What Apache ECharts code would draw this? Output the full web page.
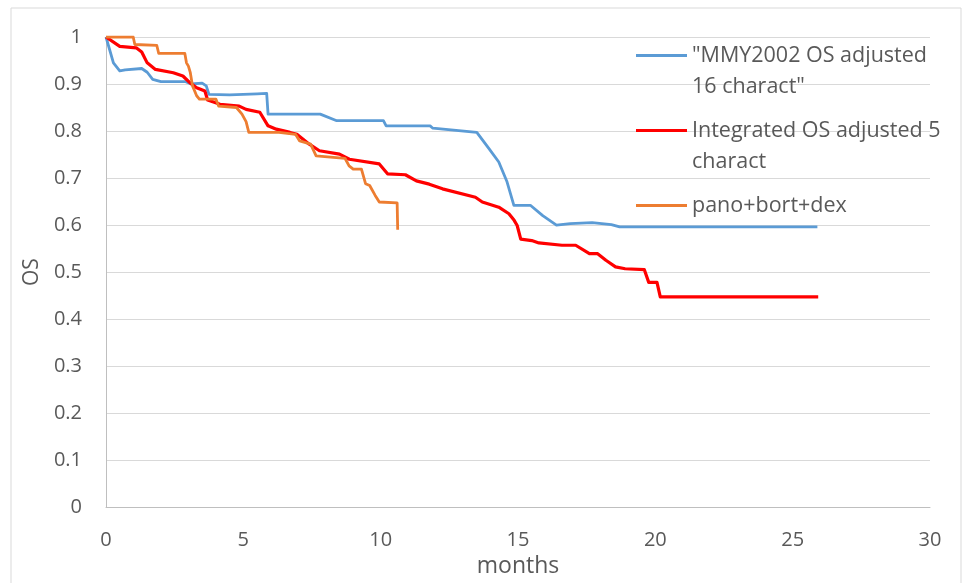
<!DOCTYPE html>
<html>
<head>
<meta charset="utf-8">
<script src="https://cdn.jsdelivr.net/npm/echarts@6/dist/echarts.min.js"></script>
<style>
  html, body { margin: 0; padding: 0; background: #ffffff; }
  #chart { width: 966px; height: 583px; }
</style>
</head>
<body>
<div id="chart"></div>
<script>
// Survival curves: [month, OS]
const mmy2002 = [
  [0, 1.0], [0.27, 0.945], [0.5, 0.928], [0.7, 0.930], [1.3, 0.933], [1.5, 0.925],
  [1.7, 0.910], [2.0, 0.905], [2.9, 0.905], [3.1, 0.900], [3.5, 0.902], [3.65, 0.896],
  [3.75, 0.878], [4.5, 0.877], [5.5, 0.879], [5.85, 0.880], [5.9, 0.836], [7.8, 0.836],
  [8.4, 0.822], [10.1, 0.822], [10.2, 0.811], [11.8, 0.811], [11.9, 0.806], [13.5, 0.797],
  [13.95, 0.762], [14.3, 0.734], [14.6, 0.692], [14.85, 0.642], [15.45, 0.642],
  [15.9, 0.620], [16.4, 0.600], [16.9, 0.603], [17.7, 0.605], [18.4, 0.601],
  [18.7, 0.596], [25.9, 0.596]
];

const integrated = [
  [0, 1.0], [0.5, 0.980], [1.1, 0.977], [1.3, 0.968], [1.5, 0.945], [1.8, 0.931],
  [2.45, 0.924], [2.8, 0.917], [3.05, 0.903], [3.3, 0.892], [3.6, 0.885], [3.7, 0.866],
  [4.15, 0.857], [4.85, 0.853], [5.1, 0.846], [5.6, 0.840], [5.9, 0.811], [6.2, 0.804],
  [6.7, 0.797], [6.95, 0.793], [7.4, 0.772], [7.77, 0.758], [8.5, 0.751], [8.86, 0.740],
  [9.95, 0.730], [10.25, 0.709], [10.9, 0.707], [11.3, 0.694], [11.77, 0.687],
  [12.25, 0.677], [13.45, 0.659], [13.7, 0.649], [14.3, 0.638], [14.67, 0.624],
  [14.86, 0.610], [14.97, 0.599], [15.1, 0.570], [15.5, 0.567], [15.76, 0.562],
  [16.6, 0.557], [17.1, 0.557], [17.6, 0.539], [17.9, 0.539], [18.2, 0.525],
  [18.55, 0.511], [18.9, 0.507], [19.6, 0.505], [19.76, 0.478], [20.06, 0.478],
  [20.18, 0.447], [25.93, 0.447]
];

const panoBortDex = [
  [0, 1.0], [0.99, 1.0], [1.05, 0.984], [1.85, 0.982], [1.92, 0.965], [2.87, 0.965],
  [2.93, 0.945], [3.0, 0.938], [3.07, 0.924], [3.15, 0.896], [3.3, 0.875], [3.4, 0.868],
  [4.0, 0.868], [4.1, 0.853], [4.75, 0.850], [4.95, 0.836], [5.1, 0.820], [5.2, 0.797],
  [6.3, 0.797], [6.9, 0.793], [7.05, 0.779], [7.45, 0.772], [7.65, 0.747], [8.7, 0.742],
  [8.85, 0.726], [9.0, 0.719], [9.3, 0.719], [9.45, 0.688], [9.6, 0.684], [9.8, 0.663],
  [9.95, 0.649], [10.6, 0.647], [10.62, 0.590]
];

const seriesNames = [
  '"MMY2002 OS adjusted 16 charact"',
  'Integrated OS adjusted 5 charact',
  'pano+bort+dex'
];
// Legend labels as wrapped in the legend box
const legendLabels = [
  ['"MMY2002 OS adjusted', '16 charact"'],
  ['Integrated OS adjusted 5', 'charact'],
  ['pano+bort+dex']
];
const seriesColors = ['#5B9BD5', '#FF0000', '#ED7D31'];
const seriesWidths = [2.8, 3.2, 2.8];

const xTicks = { min: 0, max: 30, interval: 5 };
const yTicks = { min: 0, max: 1, interval: 0.1 };

const FONT = 'Open Sans';
const TEXT_COLOR = '#595959';
const LINE_H = 31;

const chart = echarts.init(document.getElementById('chart'), null, { renderer: 'canvas' });

// One legend per entry; wrapped labels get a leading blank line so the
// first text line sits level with the line swatch.
function makeLegend(i, firstLineY) {
  const lines = legendLabels[i];
  const text = lines.length > 1 ? ['\u00a0'].concat(lines).join('\n') : lines[0];
  const nLines = lines.length > 1 ? 3 : 1;
  return {
    data: [{ name: seriesNames[i], icon: 'rect' }],
    left: 636,
    top: Math.round(firstLineY - nLines * LINE_H / 2),
    padding: 0,
    itemWidth: 51,
    itemHeight: 3,
    itemGap: 0,
    selectedMode: false,
    formatter: function () { return text; },
    textStyle: {
      fontFamily: FONT,
      fontSize: 21.5,
      color: TEXT_COLOR,
      lineHeight: LINE_H
    }
  };
}

const datasets = [mmy2002, integrated, panoBortDex];

chart.setOption({
  animation: false,
  backgroundColor: '#ffffff',
  graphic: [{
    type: 'rect',
    shape: { x: 11, y: 8, width: 950, height: 600 },
    style: { fill: 'none', stroke: '#d9d9d9', lineWidth: 1 },
    silent: true,
    z: -10
  }],
  grid: { left: 106, right: 36, top: 37, bottom: 74, containLabel: false },
  legend: [makeLegend(0, 55), makeLegend(1, 130), makeLegend(2, 205)],
  xAxis: {
    type: 'value',
    min: xTicks.min, max: xTicks.max, interval: xTicks.interval,
    name: 'months',
    nameLocation: 'middle',
    nameGap: 43,
    nameTextStyle: { fontFamily: FONT, fontSize: 23, color: TEXT_COLOR },
    axisLine: { show: true, lineStyle: { color: '#bfbfbf', width: 1 } },
    axisTick: { show: false },
    splitLine: { show: false },
    axisLabel: { fontFamily: FONT, fontSize: 20, color: TEXT_COLOR, margin: 23 }
  },
  yAxis: {
    type: 'value',
    min: yTicks.min, max: yTicks.max, interval: yTicks.interval,
    name: 'OS',
    nameLocation: 'middle',
    nameGap: 61,
    nameRotate: 90,
    nameTextStyle: { fontFamily: FONT, fontSize: 21, color: TEXT_COLOR },
    axisLine: { show: true, lineStyle: { color: '#bfbfbf', width: 1 } },
    axisTick: { show: false },
    splitLine: { show: true, lineStyle: { color: '#d9d9d9', width: 1 } },
    axisLabel: {
      fontFamily: FONT, fontSize: 20, color: TEXT_COLOR, margin: 24,
      formatter: function (v) { return String(Math.round(v * 10) / 10); }
    }
  },
  series: datasets.map(function (d, i) {
    return {
      name: seriesNames[i],
      type: 'line',
      data: d,
      showSymbol: false,
      symbol: 'none',
      color: seriesColors[i],
      lineStyle: { color: seriesColors[i], width: seriesWidths[i], join: 'round' },
      z: i === 1 ? 3 : (i === 0 ? 2 : 4)
    };
  })
});
</script>
</body>
</html>
